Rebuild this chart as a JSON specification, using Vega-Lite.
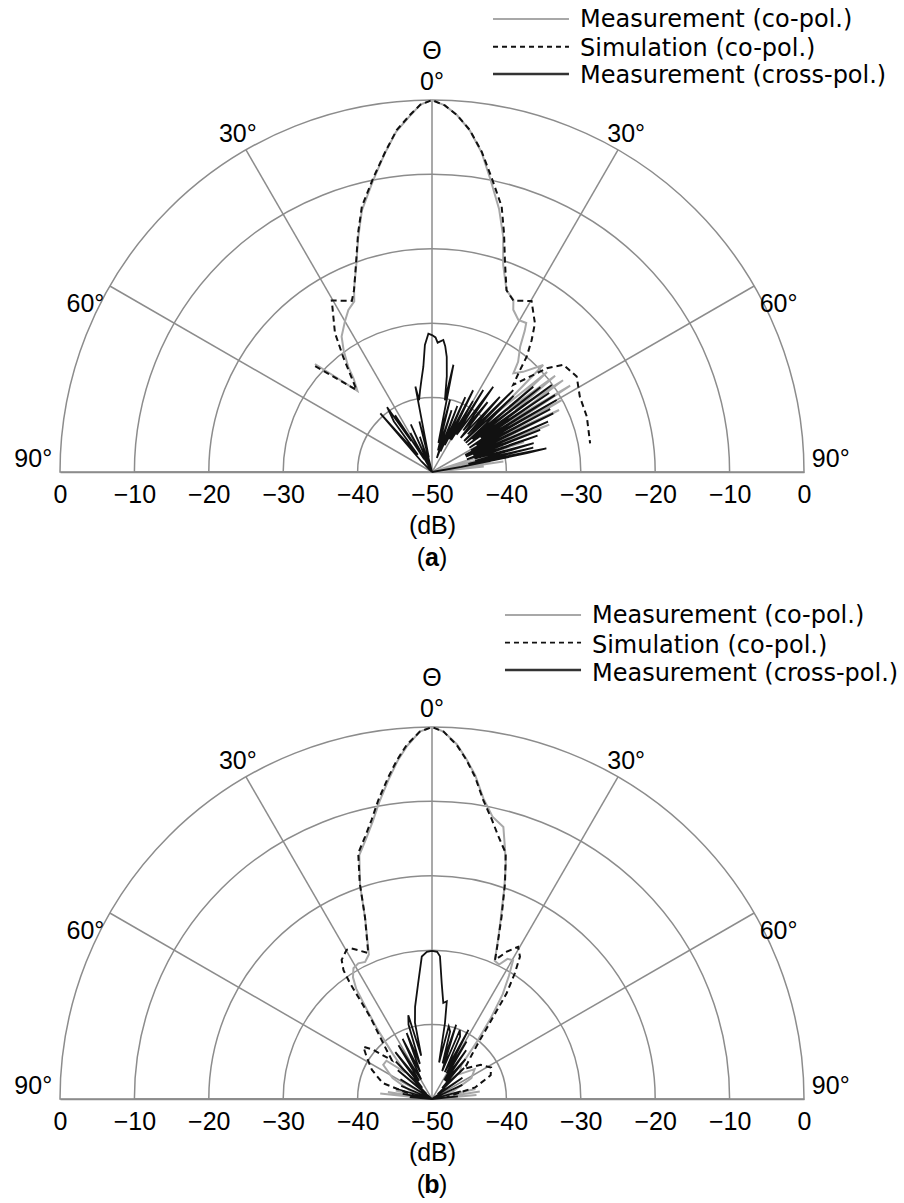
{
"$schema": "https://vega.github.io/schema/vega-lite/v6.json",
"background": "white",
"padding": {"left": 14, "top": 8, "right": 5, "bottom": 5},
"spacing": 33,
"config": {"view": {"stroke": null}, "text": {"font": "Liberation Sans", "fontSize": 25, "color": "#000"}},
"datasets": {
"labels": [
{"txt":"Θ","t":0,"r":55.5},{"txt":"0°","t":0,"r":51.3},
{"txt":"30°","t":-30.47,"r":51.46},{"txt":"30°","t":30.47,"r":51.46},
{"txt":"60°","t":-65.2,"r":51.32},{"txt":"60°","t":65.2,"r":51.32},
{"txt":"90°","t":-89.24,"r":53.6},{"txt":"90°","t":89.24,"r":53.6}
],
"rings": [{"db":-40},{"db":-30},{"db":-20},{"db":-10},{"db":0}],
"spokes": [
{"t":-60,"r":0},{"t":-60,"r":50},{"t":-30,"r":0},{"t":-30,"r":50},{"t":0,"r":0},{"t":0,"r":50},{"t":30,"r":0},{"t":30,"r":50},{"t":60,"r":0},{"t":60,"r":50}
],
"a_leg": [{"s":"meas","txt":"Measurement (co-pol.)","x":8.2,"x2":18.41,"y":60.89,"tx":19.89,"ty":59.77},{"s":"sim","txt":"Simulation (co-pol.)","x":8.2,"x2":18.41,"y":57.16,"tx":19.89,"ty":55.95},{"s":"cross","txt":"Measurement (cross-pol.)","x":8.2,"x2":18.41,"y":53.49,"tx":19.89,"ty":52.24}],
"b_leg": [{"s":"meas","txt":"Measurement (co-pol.)","x":9.81,"x2":20.03,"y":65.05,"tx":21.5,"ty":63.94},{"s":"sim","txt":"Simulation (co-pol.)","x":9.81,"x2":20.03,"y":61.33,"tx":21.5,"ty":59.99},{"s":"cross","txt":"Measurement (cross-pol.)","x":9.81,"x2":20.03,"y":57.66,"tx":21.5,"ty":56.18}],
"cap": [{"x":0,"y":-12.63}],
"a_pat": [
{"s":"sim","t":-47.8,"db":-28.8},{"s":"sim","t":-42.6,"db":-35.0},{"s":"sim","t":-40.5,"db":-33.4},{"s":"sim","t":-37.7,"db":-30.5},{"s":"sim","t":-34.9,"db":-27.2},{"s":"sim","t":-30.3,"db":-23.3},{"s":"sim","t":-25.1,"db":-24.6},{"s":"sim","t":-23.2,"db":-23.4},{"s":"sim","t":-20.0,"db":-20.15},{"s":"sim","t":-17.2,"db":-16.4},{"s":"sim","t":-14.8,"db":-13.1},{"s":"sim","t":-11.3,"db":-9.7},{"s":"sim","t":-8.3,"db":-6.5},{"s":"sim","t":-5.9,"db":-3.8},{"s":"sim","t":-3.5,"db":-1.9},{"s":"sim","t":-1.8,"db":-0.6},{"s":"sim","t":0,"db":0},{"s":"sim","t":2,"db":-0.7},{"s":"sim","t":4.0,"db":-1.9},{"s":"sim","t":6.3,"db":-3.75},{"s":"sim","t":8.8,"db":-6.4},{"s":"sim","t":11.5,"db":-9.7},{"s":"sim","t":14.7,"db":-13.1},{"s":"sim","t":16.8,"db":-16.5},{"s":"sim","t":19.3,"db":-20.3},{"s":"sim","t":22.3,"db":-23.6},{"s":"sim","t":25.4,"db":-24.5},{"s":"sim","t":30.2,"db":-23.4},{"s":"sim","t":34.7,"db":-25.7},{"s":"sim","t":37.1,"db":-27.8},{"s":"sim","t":39.4,"db":-29.95},{"s":"sim","t":40.8,"db":-31.9},{"s":"sim","t":43.0,"db":-34.0},{"s":"sim","t":47.9,"db":-29.2},{"s":"sim","t":50.8,"db":-27.2},{"s":"sim","t":56.6,"db":-26.7},{"s":"sim","t":63.0,"db":-27.7},{"s":"sim","t":70.3,"db":-27.9},{"s":"sim","t":79.7,"db":-28.4},
{"s":"meas","t":-47.3,"db":-28.6},{"s":"meas","t":-42.6,"db":-35.2},{"s":"meas","t":-40,"db":-33.6},{"s":"meas","t":-38.5,"db":-31.9},{"s":"meas","t":-36,"db":-29.8},{"s":"meas","t":-33.7,"db":-28.1},{"s":"meas","t":-30,"db":-26.6},{"s":"meas","t":-27.3,"db":-25.5},{"s":"meas","t":-24.5,"db":-24.8},{"s":"meas","t":-23.0,"db":-23.2},{"s":"meas","t":-20.2,"db":-20.5},{"s":"meas","t":-17.5,"db":-17.0},{"s":"meas","t":-15.0,"db":-13.6},{"s":"meas","t":-11.5,"db":-10.1},{"s":"meas","t":-8.5,"db":-6.8},{"s":"meas","t":-6,"db":-4.0},{"s":"meas","t":-3.5,"db":-2.0},{"s":"meas","t":-1.8,"db":-0.6},{"s":"meas","t":0,"db":0},{"s":"meas","t":2,"db":-0.7},{"s":"meas","t":4,"db":-1.9},{"s":"meas","t":6.3,"db":-3.8},{"s":"meas","t":8.8,"db":-6.5},{"s":"meas","t":11.3,"db":-9.9},{"s":"meas","t":14.3,"db":-13.5},{"s":"meas","t":16.8,"db":-16.9},{"s":"meas","t":19.0,"db":-20.6},{"s":"meas","t":22.3,"db":-23.6},{"s":"meas","t":25.3,"db":-24.4},{"s":"meas","t":26.6,"db":-25.6},{"s":"meas","t":29.6,"db":-26.5},{"s":"meas","t":32.3,"db":-26.3},{"s":"meas","t":33.3,"db":-27.3},{"s":"meas","t":35.1,"db":-29.4},{"s":"meas","t":38.0,"db":-31.2},{"s":"meas","t":39.5,"db":-32.8},{"s":"meas","t":42.3,"db":-31.8},{"s":"meas","t":46.1,"db":-29.25},{"s":"meas","t":47.5,"db":-38},{"s":"meas","t":49,"db":-29.5},{"s":"meas","t":50.5,"db":-37},{"s":"meas","t":52,"db":-29},{"s":"meas","t":53.5,"db":-36},{"s":"meas","t":55,"db":-28.5},{"s":"meas","t":56.5,"db":-38},{"s":"meas","t":58,"db":-28.1},{"s":"meas","t":59.5,"db":-39},{"s":"meas","t":61,"db":-30},{"s":"meas","t":62.5,"db":-40},{"s":"meas","t":64,"db":-31},{"s":"meas","t":66,"db":-42},{"s":"meas","t":68,"db":-33},{"s":"meas","t":70,"db":-44},{"s":"meas","t":72,"db":-37},{"s":"meas","t":74,"db":-50},{"s":"meas","t":75.5,"db":-41},{"s":"meas","t":76.5,"db":-50},{"s":"meas","t":77.5,"db":-40.6},{"s":"meas","t":78.5,"db":-50},{"s":"meas","t":79.5,"db":-42},{"s":"meas","t":80.5,"db":-50},{"s":"meas","t":81.7,"db":-40.3},{"s":"meas","t":83,"db":-50},{"s":"meas","t":84,"db":-43},{"s":"meas","t":86,"db":-50},
{"s":"cross","t":-60,"db":-50},{"s":"cross","t":-47,"db":-50},{"s":"cross","t":-45,"db":-48},{"s":"cross","t":-41.4,"db":-39.5},{"s":"cross","t":-39.5,"db":-47},{"s":"cross","t":-37,"db":-41.5},{"s":"cross","t":-34.7,"db":-39.4},{"s":"cross","t":-33.8,"db":-45},{"s":"cross","t":-33,"db":-40.9},{"s":"cross","t":-31.5,"db":-48},{"s":"cross","t":-29,"db":-44},{"s":"cross","t":-27,"db":-50},{"s":"cross","t":-24,"db":-43},{"s":"cross","t":-22,"db":-49},{"s":"cross","t":-19,"db":-45},{"s":"cross","t":-17,"db":-50},{"s":"cross","t":-14,"db":-43},{"s":"cross","t":-12.5,"db":-48},{"s":"cross","t":-11,"db":-38.3},{"s":"cross","t":-10.2,"db":-40.2},{"s":"cross","t":-8.3,"db":-38.9},{"s":"cross","t":-6.5,"db":-37.5},{"s":"cross","t":-4.7,"db":-35.8},{"s":"cross","t":-3.2,"db":-32.9},{"s":"cross","t":-1.5,"db":-31.4},{"s":"cross","t":0,"db":-31.6},{"s":"cross","t":1.5,"db":-31.9},{"s":"cross","t":2.5,"db":-32.6},{"s":"cross","t":4.9,"db":-32.2},{"s":"cross","t":6,"db":-33},{"s":"cross","t":7.3,"db":-34.4},{"s":"cross","t":8.8,"db":-37},{"s":"cross","t":10.2,"db":-40.2},{"s":"cross","t":11.3,"db":-35.3},{"s":"cross","t":12.5,"db":-46},{"s":"cross","t":14,"db":-40},{"s":"cross","t":15.5,"db":-47},{"s":"cross","t":17.6,"db":-41.3},{"s":"cross","t":19,"db":-48},{"s":"cross","t":21,"db":-40.5},{"s":"cross","t":22.5,"db":-47},{"s":"cross","t":24,"db":-39},{"s":"cross","t":25.5,"db":-46},{"s":"cross","t":26.7,"db":-37.7},{"s":"cross","t":28.5,"db":-45},{"s":"cross","t":30,"db":-39},{"s":"cross","t":31,"db":-45},{"s":"cross","t":32,"db":-37},{"s":"cross","t":33.5,"db":-44},{"s":"cross","t":35.7,"db":-35.9},{"s":"cross","t":37,"db":-43},{"s":"cross","t":38.5,"db":-38},{"s":"cross","t":40,"db":-44},{"s":"cross","t":42.1,"db":-36.4},{"s":"cross","t":43.5,"db":-43},{"s":"cross","t":44.8,"db":-34.5},{"s":"cross","t":46,"db":-44},{"s":"cross","t":47,"db":-35},{"s":"cross","t":48.3,"db":-40.2},{"s":"cross","t":49.2,"db":-44},{"s":"cross","t":49.9,"db":-32.2},{"s":"cross","t":51,"db":-43},{"s":"cross","t":52,"db":-31.5},{"s":"cross","t":53,"db":-44},{"s":"cross","t":54,"db":-30.1},{"s":"cross","t":55,"db":-42},{"s":"cross","t":56,"db":-31},{"s":"cross","t":57,"db":-44},{"s":"cross","t":58,"db":-30.5},{"s":"cross","t":59,"db":-43},{"s":"cross","t":60,"db":-30.65},{"s":"cross","t":61,"db":-44},{"s":"cross","t":62,"db":-32},{"s":"cross","t":63,"db":-45},{"s":"cross","t":64.2,"db":-31.9},{"s":"cross","t":65.5,"db":-45},{"s":"cross","t":66.5,"db":-33},{"s":"cross","t":67.5,"db":-44},{"s":"cross","t":68.7,"db":-34.4},{"s":"cross","t":70,"db":-45},{"s":"cross","t":71,"db":-35},{"s":"cross","t":72.5,"db":-44},{"s":"cross","t":74.2,"db":-35.8},{"s":"cross","t":75.5,"db":-44},{"s":"cross","t":76.5,"db":-36},{"s":"cross","t":77.5,"db":-45},{"s":"cross","t":78.3,"db":-34.3},{"s":"cross","t":78.8,"db":-37},{"s":"cross","t":80,"db":-46},{"s":"cross","t":82,"db":-50},{"s":"cross","t":90,"db":-50}
],
"b_pat": [
{"s":"sim","t":-82,"db":-48},{"s":"sim","t":-72,"db":-43},{"s":"sim","t":-64,"db":-41},{"s":"sim","t":-57,"db":-39.5},{"s":"sim","t":-52.7,"db":-38.4},{"s":"sim","t":-50.1,"db":-39.7},{"s":"sim","t":-46,"db":-42.5},{"s":"sim","t":-42.8,"db":-41.0},{"s":"sim","t":-39.9,"db":-39.1},{"s":"sim","t":-37.0,"db":-36.2},{"s":"sim","t":-36.0,"db":-33.5},{"s":"sim","t":-35.3,"db":-30.9},{"s":"sim","t":-34.5,"db":-29.0},{"s":"sim","t":-33.0,"db":-27.7},{"s":"sim","t":-29.8,"db":-26.9},{"s":"sim","t":-28.1,"db":-27.05},{"s":"sim","t":-23.6,"db":-28.6},{"s":"sim","t":-20.2,"db":-23.9},{"s":"sim","t":-18.5,"db":-19.4},{"s":"sim","t":-16.7,"db":-15.5},{"s":"sim","t":-14.3,"db":-13.6},{"s":"sim","t":-12.2,"db":-11.6},{"s":"sim","t":-10.2,"db":-9.2},{"s":"sim","t":-7.7,"db":-6.3},{"s":"sim","t":-5.9,"db":-4.2},{"s":"sim","t":-4.1,"db":-2.3},{"s":"sim","t":-1.9,"db":-0.6},{"s":"sim","t":0,"db":0},{"s":"sim","t":1.8,"db":-0.6},{"s":"sim","t":4.0,"db":-2.3},{"s":"sim","t":5.8,"db":-4.2},{"s":"sim","t":7.6,"db":-6.3},{"s":"sim","t":9.7,"db":-9.2},{"s":"sim","t":12.1,"db":-11.6},{"s":"sim","t":14.2,"db":-13.6},{"s":"sim","t":16.7,"db":-15.5},{"s":"sim","t":18.7,"db":-19.4},{"s":"sim","t":20.9,"db":-23.8},{"s":"sim","t":23.5,"db":-28.2},{"s":"sim","t":24.4,"db":-29.5},{"s":"sim","t":26.9,"db":-27.8},{"s":"sim","t":29.5,"db":-26.5},{"s":"sim","t":31.7,"db":-27.5},{"s":"sim","t":33.4,"db":-29.8},{"s":"sim","t":35.2,"db":-32.6},{"s":"sim","t":36.7,"db":-36.2},{"s":"sim","t":39.1,"db":-39.8},{"s":"sim","t":42,"db":-42},{"s":"sim","t":47,"db":-44},{"s":"sim","t":55,"db":-42},{"s":"sim","t":62,"db":-41},{"s":"sim","t":68,"db":-41.5},{"s":"sim","t":75,"db":-44},{"s":"sim","t":82,"db":-48},
{"s":"meas","t":-86,"db":-50},{"s":"meas","t":-84,"db":-43},{"s":"meas","t":-82.5,"db":-50},{"s":"meas","t":-81,"db":-44},{"s":"meas","t":-79,"db":-50},{"s":"meas","t":-77,"db":-45},{"s":"meas","t":-74,"db":-50},{"s":"meas","t":-70,"db":-47},{"s":"meas","t":-62,"db":-44},{"s":"meas","t":-55,"db":-42},{"s":"meas","t":-50,"db":-42},{"s":"meas","t":-45,"db":-45},{"s":"meas","t":-41,"db":-42},{"s":"meas","t":-38,"db":-38},{"s":"meas","t":-36,"db":-35},{"s":"meas","t":-34.5,"db":-32},{"s":"meas","t":-33,"db":-30.5},{"s":"meas","t":-31,"db":-29.5},{"s":"meas","t":-28.5,"db":-29.25},{"s":"meas","t":-26,"db":-29.5},{"s":"meas","t":-23.6,"db":-28.8},{"s":"meas","t":-20.4,"db":-24.3},{"s":"meas","t":-18.6,"db":-19.7},{"s":"meas","t":-16.6,"db":-15.8},{"s":"meas","t":-14.2,"db":-13.9},{"s":"meas","t":-12.1,"db":-11.9},{"s":"meas","t":-10.1,"db":-9.5},{"s":"meas","t":-7.6,"db":-6.5},{"s":"meas","t":-5.8,"db":-4.3},{"s":"meas","t":-4.0,"db":-2.4},{"s":"meas","t":-1.9,"db":-0.6},{"s":"meas","t":0,"db":0},{"s":"meas","t":1.8,"db":-0.6},{"s":"meas","t":4.0,"db":-2.2},{"s":"meas","t":5.8,"db":-4.1},{"s":"meas","t":7.6,"db":-6.1},{"s":"meas","t":9.7,"db":-9.0},{"s":"meas","t":12.1,"db":-11.2},{"s":"meas","t":14.7,"db":-12.2},{"s":"meas","t":16.1,"db":-14.7},{"s":"meas","t":17.5,"db":-17},{"s":"meas","t":19.0,"db":-20.2},{"s":"meas","t":21,"db":-24.3},{"s":"meas","t":22.5,"db":-26.8},{"s":"meas","t":24.4,"db":-29.6},{"s":"meas","t":26.5,"db":-29.8},{"s":"meas","t":28.3,"db":-28.6},{"s":"meas","t":30.3,"db":-28.4},{"s":"meas","t":32,"db":-30.5},{"s":"meas","t":34,"db":-33},{"s":"meas","t":36,"db":-36.5},{"s":"meas","t":38,"db":-40},{"s":"meas","t":41,"db":-44},{"s":"meas","t":48,"db":-45},{"s":"meas","t":55,"db":-43},{"s":"meas","t":62,"db":-44},{"s":"meas","t":70,"db":-47},{"s":"meas","t":75,"db":-50},{"s":"meas","t":77,"db":-44},{"s":"meas","t":79,"db":-50},{"s":"meas","t":81,"db":-43.5},{"s":"meas","t":83,"db":-50},{"s":"meas","t":85,"db":-44},{"s":"meas","t":87,"db":-50},
{"s":"cross","t":-88,"db":-50},{"s":"cross","t":-85,"db":-47},{"s":"cross","t":-83,"db":-50},{"s":"cross","t":-80,"db":-46},{"s":"cross","t":-77,"db":-50},{"s":"cross","t":-74,"db":-45},{"s":"cross","t":-71,"db":-50},{"s":"cross","t":-67,"db":-45.5},{"s":"cross","t":-63,"db":-50},{"s":"cross","t":-58,"db":-45},{"s":"cross","t":-54,"db":-50},{"s":"cross","t":-50,"db":-44},{"s":"cross","t":-47,"db":-49},{"s":"cross","t":-44,"db":-43},{"s":"cross","t":-41,"db":-48},{"s":"cross","t":-38,"db":-42},{"s":"cross","t":-35,"db":-47},{"s":"cross","t":-32,"db":-41.5},{"s":"cross","t":-29,"db":-47},{"s":"cross","t":-26,"db":-41},{"s":"cross","t":-23.5,"db":-46},{"s":"cross","t":-21,"db":-40.5},{"s":"cross","t":-19,"db":-45},{"s":"cross","t":-17.5,"db":-39.5},{"s":"cross","t":-15.8,"db":-38.3},{"s":"cross","t":-14,"db":-44},{"s":"cross","t":-12.6,"db":-39.5},{"s":"cross","t":-10.4,"db":-37.4},{"s":"cross","t":-6.8,"db":-34.3},{"s":"cross","t":-4.1,"db":-30.8},{"s":"cross","t":-2,"db":-30.2},{"s":"cross","t":0,"db":-30.1},{"s":"cross","t":2,"db":-30.2},{"s":"cross","t":3.2,"db":-30.8},{"s":"cross","t":4.8,"db":-34.4},{"s":"cross","t":6.7,"db":-37.0},{"s":"cross","t":8.6,"db":-36.7},{"s":"cross","t":9.7,"db":-39.7},{"s":"cross","t":11,"db":-45},{"s":"cross","t":13,"db":-40},{"s":"cross","t":15,"db":-40.6},{"s":"cross","t":16.5,"db":-45},{"s":"cross","t":18,"db":-39.5},{"s":"cross","t":20,"db":-46},{"s":"cross","t":22,"db":-40},{"s":"cross","t":24.2,"db":-40.8},{"s":"cross","t":25.5,"db":-46},{"s":"cross","t":27.8,"db":-39.5},{"s":"cross","t":29.5,"db":-46},{"s":"cross","t":31,"db":-41},{"s":"cross","t":33,"db":-47},{"s":"cross","t":35,"db":-42},{"s":"cross","t":37,"db":-47},{"s":"cross","t":40,"db":-43},{"s":"cross","t":43,"db":-48},{"s":"cross","t":46,"db":-44},{"s":"cross","t":50,"db":-49},{"s":"cross","t":55,"db":-45},{"s":"cross","t":60,"db":-50},{"s":"cross","t":65,"db":-45.5},{"s":"cross","t":70,"db":-50},{"s":"cross","t":75,"db":-46},{"s":"cross","t":80,"db":-50},{"s":"cross","t":84,"db":-46.5},{"s":"cross","t":87,"db":-50},{"s":"cross","t":90,"db":-50}
]
},
"vconcat": [
{
"width": 744, "height": 372,
"encoding": {
"x": {"field": "x", "type": "quantitative", "scale": {"domain": [-50, 50], "nice": false, "zero": false},
"axis": {"values": [-50,-40,-30,-20,-10,0,10,20,30,40,50], "labelExpr": "abs(datum.value) == 50 ? '0' : '−' + (50 - abs(datum.value))", "ticks": false, "tickSize": 0, "grid": false, "domainColor": "#8c8c8c", "domainWidth": 1.5, "labelFont": "Liberation Sans", "labelFontSize": 25, "labelColor": "#000", "labelPadding": 10, "labelFlush": false, "labelOverlap": false, "title": "(dB)", "titleFont": "Liberation Sans", "titleFontSize": 25, "titleFontWeight": "normal", "titleColor": "#000", "titlePadding": 6}},
"y": {"field": "y", "type": "quantitative", "scale": {"domain": [0, 50], "nice": false, "zero": false}, "axis": null}
},
"layer": [
{"data": {"name": "rings"}, "mark": {"type": "arc", "theta": -1.5708, "theta2": 1.5708, "fillOpacity": 0, "stroke": "#8c8c8c", "strokeWidth": 1.5},
 "transform": [{"calculate": "datum.db + 50", "as": "r"}, {"calculate": "0", "as": "x"}, {"calculate": "0", "as": "y"}],
 "encoding": {"radius": {"field": "r", "type": "quantitative", "stack": null, "scale": {"type": "linear", "domain": [0, 50], "range": [0, 372], "zero": true}}}},
{"data": {"name": "spokes"}, "mark": {"type": "line", "stroke": "#8c8c8c", "strokeWidth": 1.5},
 "transform": [{"calculate": "datum.r * sin(datum.t * PI / 180)", "as": "x"}, {"calculate": "datum.r * cos(datum.t * PI / 180)", "as": "y"}],
 "encoding": {"detail": {"field": "t"}, "order": {"field": "r", "type": "quantitative"}}},
{"data": {"name": "a_pat"}, "mark": {"type": "line", "stroke": "#a8a8a8", "strokeWidth": 2},
 "transform": [{"filter": "datum.s === 'meas'"}, {"calculate": "max(0, datum.db + 50)", "as": "r"}, {"calculate": "datum.r * sin(datum.t * PI / 180)", "as": "x"}, {"calculate": "datum.r * cos(datum.t * PI / 180)", "as": "y"}],
 "encoding": {"order": {"field": "t", "type": "quantitative"}}},
{"data": {"name": "a_pat"}, "mark": {"type": "line", "stroke": "#111", "strokeWidth": 1.8},
 "transform": [{"filter": "datum.s === 'cross'"}, {"calculate": "max(0, datum.db + 50)", "as": "r"}, {"calculate": "datum.r * sin(datum.t * PI / 180)", "as": "x"}, {"calculate": "datum.r * cos(datum.t * PI / 180)", "as": "y"}],
 "encoding": {"order": {"field": "t", "type": "quantitative"}}},
{"data": {"name": "a_pat"}, "mark": {"type": "line", "stroke": "#111", "strokeWidth": 2, "strokeDash": [6, 4]},
 "transform": [{"filter": "datum.s === 'sim'"}, {"calculate": "max(0, datum.db + 50)", "as": "r"}, {"calculate": "datum.r * sin(datum.t * PI / 180)", "as": "x"}, {"calculate": "datum.r * cos(datum.t * PI / 180)", "as": "y"}],
 "encoding": {"order": {"field": "t", "type": "quantitative"}}},
{"data": {"name": "labels"}, "mark": {"type": "text", "align": "center", "baseline": "alphabetic", "fontSize": 25},
 "transform": [{"calculate": "datum.r * sin(datum.t * PI / 180)", "as": "x"}, {"calculate": "datum.r * cos(datum.t * PI / 180)", "as": "y"}],
 "encoding": {"text": {"field": "txt"}}},
{"data": {"name": "a_leg"}, "transform": [{"filter": "datum.s === 'meas'"}], "mark": {"type": "rule", "stroke": "#a8a8a8", "strokeWidth": 2}, "encoding": {"x2": {"field": "x2"}}},
{"data": {"name": "a_leg"}, "transform": [{"filter": "datum.s === 'sim'"}], "mark": {"type": "rule", "stroke": "#111", "strokeWidth": 1.8, "strokeDash": [5, 4]}, "encoding": {"x2": {"field": "x2"}}},
{"data": {"name": "a_leg"}, "transform": [{"filter": "datum.s === 'cross'"}], "mark": {"type": "rule", "stroke": "#333", "strokeWidth": 2.5}, "encoding": {"x2": {"field": "x2"}}},
{"data": {"name": "a_leg"}, "mark": {"type": "text", "align": "left", "baseline": "alphabetic", "font": "DejaVu Sans", "fontSize": 24}, "encoding": {"x": {"field": "tx", "type": "quantitative"}, "y": {"field": "ty", "type": "quantitative"}, "text": {"field": "txt"}}},
{"data": {"name": "cap"}, "mark": {"type": "text", "align": "right", "baseline": "alphabetic", "fontSize": 25, "dx": -7}, "encoding": {"text": {"value": "("}}},
{"data": {"name": "cap"}, "mark": {"type": "text", "align": "center", "baseline": "alphabetic", "fontSize": 25, "fontWeight": "bold"}, "encoding": {"text": {"value": "a"}}},
{"data": {"name": "cap"}, "mark": {"type": "text", "align": "left", "baseline": "alphabetic", "fontSize": 25, "dx": 7}, "encoding": {"text": {"value": ")"}}}
]
},
{
"width": 744, "height": 372,
"encoding": {
"x": {"field": "x", "type": "quantitative", "scale": {"domain": [-50, 50], "nice": false, "zero": false},
"axis": {"values": [-50,-40,-30,-20,-10,0,10,20,30,40,50], "labelExpr": "abs(datum.value) == 50 ? '0' : '−' + (50 - abs(datum.value))", "ticks": false, "tickSize": 0, "grid": false, "domainColor": "#8c8c8c", "domainWidth": 1.5, "labelFont": "Liberation Sans", "labelFontSize": 25, "labelColor": "#000", "labelPadding": 10, "labelFlush": false, "labelOverlap": false, "title": "(dB)", "titleFont": "Liberation Sans", "titleFontSize": 25, "titleFontWeight": "normal", "titleColor": "#000", "titlePadding": 6}},
"y": {"field": "y", "type": "quantitative", "scale": {"domain": [0, 50], "nice": false, "zero": false}, "axis": null}
},
"layer": [
{"data": {"name": "rings"}, "mark": {"type": "arc", "theta": -1.5708, "theta2": 1.5708, "fillOpacity": 0, "stroke": "#8c8c8c", "strokeWidth": 1.5},
 "transform": [{"calculate": "datum.db + 50", "as": "r"}, {"calculate": "0", "as": "x"}, {"calculate": "0", "as": "y"}],
 "encoding": {"radius": {"field": "r", "type": "quantitative", "stack": null, "scale": {"type": "linear", "domain": [0, 50], "range": [0, 372], "zero": true}}}},
{"data": {"name": "spokes"}, "mark": {"type": "line", "stroke": "#8c8c8c", "strokeWidth": 1.5},
 "transform": [{"calculate": "datum.r * sin(datum.t * PI / 180)", "as": "x"}, {"calculate": "datum.r * cos(datum.t * PI / 180)", "as": "y"}],
 "encoding": {"detail": {"field": "t"}, "order": {"field": "r", "type": "quantitative"}}},
{"data": {"name": "b_pat"}, "mark": {"type": "line", "stroke": "#a8a8a8", "strokeWidth": 2},
 "transform": [{"filter": "datum.s === 'meas'"}, {"calculate": "max(0, datum.db + 50)", "as": "r"}, {"calculate": "datum.r * sin(datum.t * PI / 180)", "as": "x"}, {"calculate": "datum.r * cos(datum.t * PI / 180)", "as": "y"}],
 "encoding": {"order": {"field": "t", "type": "quantitative"}}},
{"data": {"name": "b_pat"}, "mark": {"type": "line", "stroke": "#111", "strokeWidth": 1.8},
 "transform": [{"filter": "datum.s === 'cross'"}, {"calculate": "max(0, datum.db + 50)", "as": "r"}, {"calculate": "datum.r * sin(datum.t * PI / 180)", "as": "x"}, {"calculate": "datum.r * cos(datum.t * PI / 180)", "as": "y"}],
 "encoding": {"order": {"field": "t", "type": "quantitative"}}},
{"data": {"name": "b_pat"}, "mark": {"type": "line", "stroke": "#111", "strokeWidth": 2, "strokeDash": [6, 4]},
 "transform": [{"filter": "datum.s === 'sim'"}, {"calculate": "max(0, datum.db + 50)", "as": "r"}, {"calculate": "datum.r * sin(datum.t * PI / 180)", "as": "x"}, {"calculate": "datum.r * cos(datum.t * PI / 180)", "as": "y"}],
 "encoding": {"order": {"field": "t", "type": "quantitative"}}},
{"data": {"name": "labels"}, "mark": {"type": "text", "align": "center", "baseline": "alphabetic", "fontSize": 25},
 "transform": [{"calculate": "datum.r * sin(datum.t * PI / 180)", "as": "x"}, {"calculate": "datum.r * cos(datum.t * PI / 180)", "as": "y"}],
 "encoding": {"text": {"field": "txt"}}},
{"data": {"name": "b_leg"}, "transform": [{"filter": "datum.s === 'meas'"}], "mark": {"type": "rule", "stroke": "#a8a8a8", "strokeWidth": 2}, "encoding": {"x2": {"field": "x2"}}},
{"data": {"name": "b_leg"}, "transform": [{"filter": "datum.s === 'sim'"}], "mark": {"type": "rule", "stroke": "#111", "strokeWidth": 1.8, "strokeDash": [5, 4]}, "encoding": {"x2": {"field": "x2"}}},
{"data": {"name": "b_leg"}, "transform": [{"filter": "datum.s === 'cross'"}], "mark": {"type": "rule", "stroke": "#333", "strokeWidth": 2.5}, "encoding": {"x2": {"field": "x2"}}},
{"data": {"name": "b_leg"}, "mark": {"type": "text", "align": "left", "baseline": "alphabetic", "font": "DejaVu Sans", "fontSize": 24}, "encoding": {"x": {"field": "tx", "type": "quantitative"}, "y": {"field": "ty", "type": "quantitative"}, "text": {"field": "txt"}}},
{"data": {"name": "cap"}, "mark": {"type": "text", "align": "right", "baseline": "alphabetic", "fontSize": 25, "dx": -7}, "encoding": {"text": {"value": "("}}},
{"data": {"name": "cap"}, "mark": {"type": "text", "align": "center", "baseline": "alphabetic", "fontSize": 25, "fontWeight": "bold"}, "encoding": {"text": {"value": "b"}}},
{"data": {"name": "cap"}, "mark": {"type": "text", "align": "left", "baseline": "alphabetic", "fontSize": 25, "dx": 7}, "encoding": {"text": {"value": ")"}}}
]
}
]
}
